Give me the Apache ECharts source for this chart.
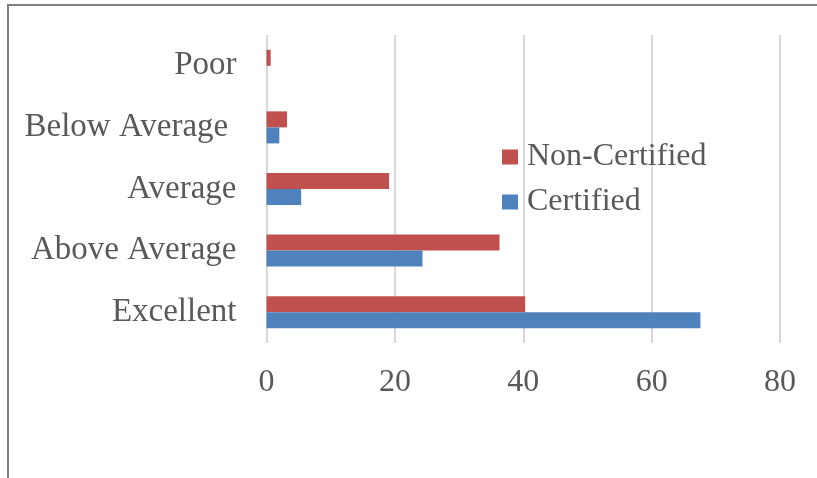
<!DOCTYPE html>
<html>
<head>
<meta charset="utf-8">
<script src="https://cdn.jsdelivr.net/npm/echarts@6/dist/echarts.min.js"></script>
<style>html,body{margin:0;padding:0;background:#fff}#c{width:817px;height:478px}</style>
</head>
<body>
<div id="c"></div>
<script>
const categories = ['Excellent', 'Above Average', 'Average', 'Below Average ', 'Poor'];
const certified = [67.6, 24.3, 5.4, 2.0, 0];
const nonCertified = [40.3, 36.3, 19.1, 3.2, 0.65];
const xTicks = { min: 0, max: 80, interval: 20 };

const FONT = 'Liberation Serif';
const TXT = '#595959';
const chart = echarts.init(document.getElementById('c'));
chart.setOption({
  backgroundColor: '#fff',
  animation: false,
  graphic: [{
    type: 'rect', shape: { x: 8, y: 5, width: 900, height: 600 },
    style: { fill: 'none', stroke: '#808080', lineWidth: 2 }, z: 100
  }],
  grid: { left: 266.5, right: 37, top: 35, bottom: 135, containLabel: false },
  legend: {
    orient: 'vertical', left: 502, top: 141, padding: 0, itemWidth: 16, itemHeight: 15, itemGap: 13,
    icon: 'rect',
    data: ['Non-Certified', 'Certified'],
    textStyle: { fontFamily: FONT, fontSize: 32, color: TXT, padding: [0, 0, 0, 4] }
  },
  xAxis: {
    type: 'value', min: xTicks.min, max: xTicks.max, interval: xTicks.interval,
    axisLine: { show: false }, axisTick: { show: false },
    splitLine: { show: true, lineStyle: { color: '#d9d9d9', width: 2 } },
    axisLabel: { fontFamily: FONT, fontSize: 32, color: TXT, margin: 24 }
  },
  yAxis: {
    type: 'category', data: categories,
    axisLine: { show: false }, axisTick: { show: false },
    axisLabel: { fontFamily: FONT, fontSize: 33, color: TXT, margin: 30, padding: [5, 0, 0, 0] }
  },
  series: [
    { name: 'Non-Certified', type: 'bar', data: nonCertified, barGap: '0%', barCategoryGap: '48%',
      itemStyle: { color: '#C0504D' } },
    { name: 'Certified', type: 'bar', data: certified, barGap: '0%', barCategoryGap: '48%',
      itemStyle: { color: '#4F81BD' } }
  ]
});
</script>
</body>
</html>
